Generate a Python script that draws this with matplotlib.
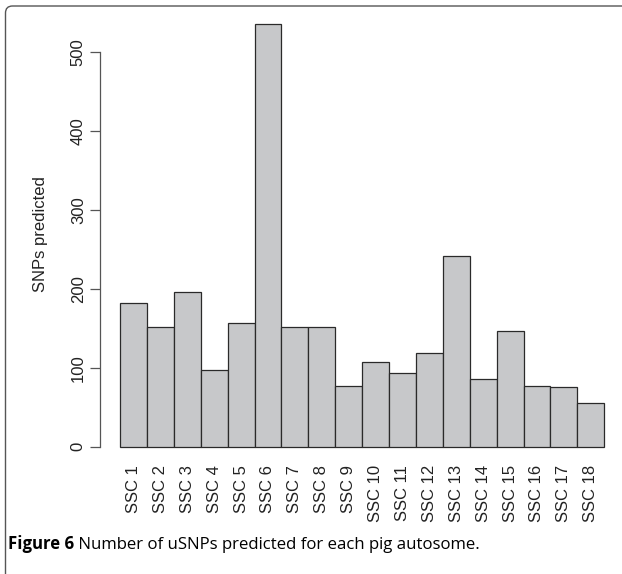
import matplotlib
matplotlib.use("Agg")
import matplotlib.pyplot as plt
import matplotlib.patches as mpatches
from matplotlib.transforms import IdentityTransform

categories = ["SSC 1", "SSC 2", "SSC 3", "SSC 4", "SSC 5", "SSC 6", "SSC 7", "SSC 8", "SSC 9",
              "SSC 10", "SSC 11", "SSC 12", "SSC 13", "SSC 14", "SSC 15", "SSC 16", "SSC 17", "SSC 18"]
snps = [182, 151, 196, 97, 156, 535, 151, 151, 77, 107, 93, 118, 242, 86, 146, 77, 76, 55]
yticks = [0, 100, 200, 300, 400, 500]

plt.rcParams['font.family'] = ['Liberation Sans', 'DejaVu Sans']

fig = plt.figure(figsize=(6.22, 5.74), dpi=100)
fig.patch.set_facecolor('white')

ax = fig.add_axes([100/622, 0.1923, 522/622, 0.7953])
x = list(range(len(categories)))
ax.bar(x, snps, width=1.0, align='edge', color='#c7c8ca', edgecolor='#2a2a2a', linewidth=0.9)
ax.set_xlim(-0.743, 18.66)
ax.set_ylim(-21.4, 556.4)

for s in ['top', 'right', 'bottom']:
    ax.spines[s].set_visible(False)
ax.spines['left'].set_bounds(0, 500)
ax.spines['left'].set_color('#555555')
ax.spines['left'].set_linewidth(0.9)

ax.set_yticks(yticks)
ax.set_yticklabels([str(v) for v in yticks], rotation=90, va='center', fontsize=12, color='#222222')
ax.tick_params(axis='y', length=7.2, width=0.9, color='#555555', pad=3.0)

ax.set_xticks([i + 0.5 for i in x])
ax.set_xticklabels(categories, rotation=90, fontsize=12, color='#222222', va='top', ha='center')
ax.tick_params(axis='x', length=0, pad=1)

fig.text(40/622, 1 - 234/574, 'SNPs predicted', rotation=90, ha='center', va='center',
         fontsize=12, color='#222222')

cap_y = 1 - 549/574
t1 = fig.text(8/622, cap_y, 'Figure 6', fontsize=12.1, fontweight='bold', family=['Open Sans', 'DejaVu Sans'],
              ha='left', va='baseline', color='#000000')
fig.canvas.draw()
ax.annotate(' Number of uSNPs predicted for each pig autosome.', xy=(1, 0), xycoords=t1,
            va='bottom', ha='left', fontsize=12.1, fontweight='medium', family=['Open Sans', 'DejaVu Sans'],
            color='#000000', annotation_clip=False)

border = mpatches.FancyBboxPatch((5.5, -60), 700, 574 - 6 + 60, boxstyle='round,pad=0,rounding_size=7',
                                 transform=IdentityTransform(), facecolor='none', edgecolor='#555555',
                                 linewidth=1.0)
fig.patches.append(border)

fig.savefig('out.png', dpi=100)
